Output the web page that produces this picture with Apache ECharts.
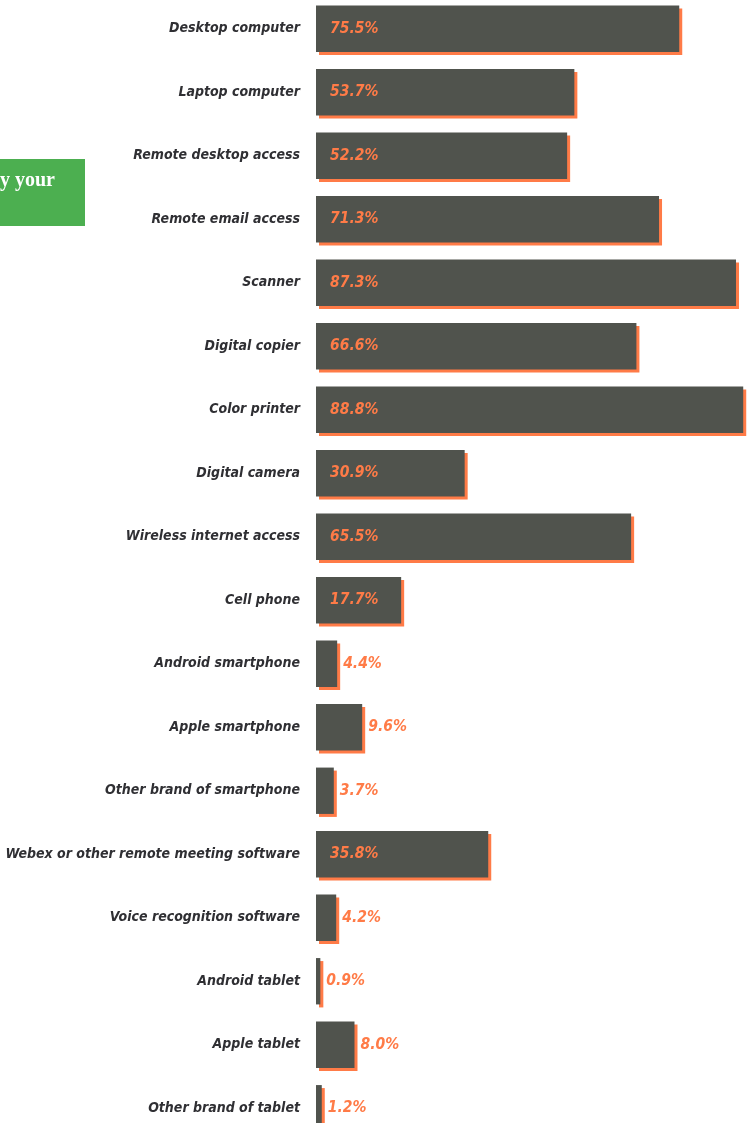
<!DOCTYPE html>
<html>
<head>
<meta charset="utf-8">
<style>
  html, body { margin: 0; padding: 0; background: #ffffff; }
  #chart { width: 752px; height: 1123px; }
</style>
<script src="https://cdn.jsdelivr.net/npm/echarts@6/dist/echarts.min.js"></script>
</head>
<body>
<div id="chart"></div>
<script>
// Devices and services used, share of respondents (%)
const categories = [
  'Desktop computer', 'Laptop computer', 'Remote desktop access', 'Remote email access',
  'Scanner', 'Digital copier', 'Color printer', 'Digital camera',
  'Wireless internet access', 'Cell phone', 'Android smartphone', 'Apple smartphone',
  'Other brand of smartphone', 'Webex or other remote meeting software',
  'Voice recognition software', 'Android tablet', 'Apple tablet', 'Other brand of tablet'
];
const shares = [75.5, 53.7, 52.2, 71.3, 87.3, 66.6, 88.8, 30.9, 65.5, 17.7, 4.4, 9.6, 3.7, 35.8, 4.2, 0.9, 8.0, 1.2];

const BAR = '#50534d';
const ACCENT = '#ff7b47';
const LABEL_FONT = '"DejaVu Sans Condensed", "DejaVu Sans", sans-serif';
const insideMin = 15; // values below this get their label outside the bar

const chart = echarts.init(document.getElementById('chart'), null, { renderer: 'canvas' });

chart.setOption({
  animation: false,
  grid: { left: 316, top: -3, width: 433, height: 1143, containLabel: false, outerBoundsMode: 'none' },
  xAxis: {
    type: 'value', min: 0, max: 90, show: false
  },
  yAxis: {
    type: 'category', inverse: true, data: categories,
    axisLine: { show: false }, axisTick: { show: false },
    axisLabel: {
      margin: 16, color: '#2f2f33', fontSize: 14, fontWeight: 'bold',
      fontStyle: 'italic', fontFamily: LABEL_FONT
    }
  },
  series: [{
    type: 'bar',
    barCategoryGap: '27%',
    data: shares.map(v => ({
      value: v,
      label: v < insideMin
        ? { position: 'right', distance: 6 }
        : { position: 'insideLeft', distance: 14 }
    })),
    itemStyle: {
      color: BAR,
      shadowColor: ACCENT, shadowBlur: 0, shadowOffsetX: 3, shadowOffsetY: 3
    },
    label: {
      show: true, color: ACCENT, fontSize: 15.5, fontWeight: 'bold',
      fontStyle: 'italic', fontFamily: LABEL_FONT,
      formatter: p => p.value.toFixed(1) + '%'
    }
  }],
  graphic: [{
    type: 'group', left: 0, top: 159,
    children: [
      { type: 'rect', shape: { x: 0, y: 0, width: 85, height: 67 }, style: { fill: '#4caf50' } },
      { type: 'text', x: 0, y: 12, style: {
          text: 'y your', fill: '#ffffff',
          font: 'bold 20px "Liberation Serif", "DejaVu Serif", serif'
      } }
    ]
  }]
});
</script>
</body>
</html>
